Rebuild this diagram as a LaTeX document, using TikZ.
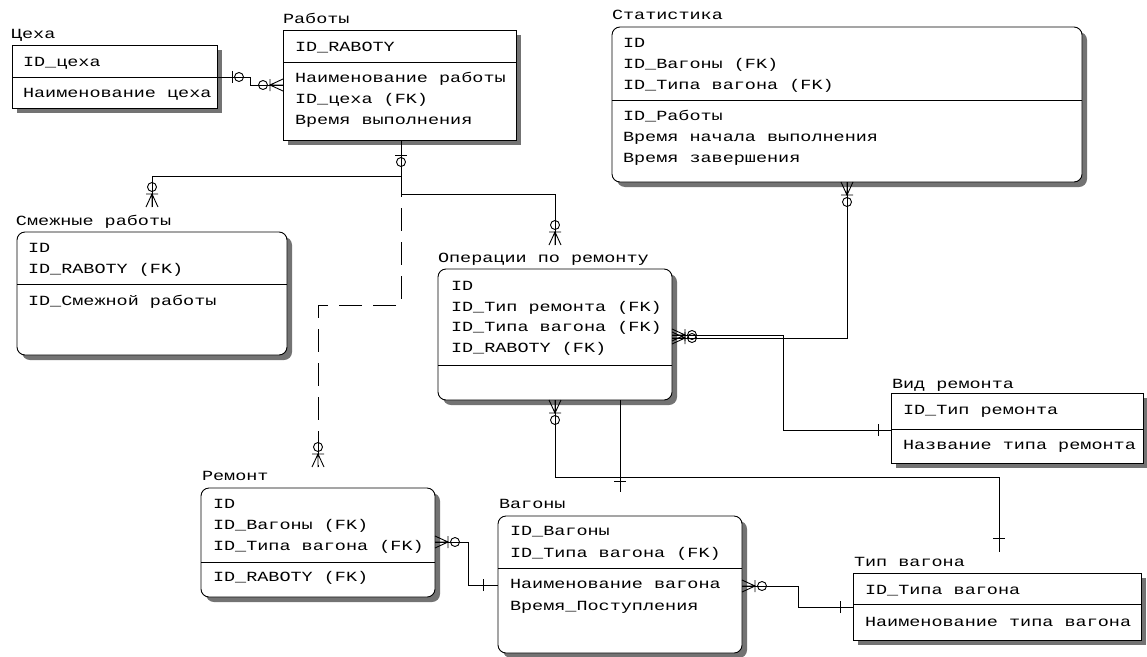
\documentclass[tikz,border=0pt]{standalone}
\usepackage{fontspec}
\setmainfont{Liberation Mono}[FakeStretch=1.32]
\usetikzlibrary{shadows}
\newcommand\erow[4]{\node[txt] (#1) at ({#2},{#3+4.5}) {#4};}
\begin{document}
\begin{tikzpicture}[x=1pt,y=-1pt,
  ent/.style={draw, line width=0.9pt, fill=white, inner sep=0pt, outer sep=0pt,
    drop shadow={shadow xshift=5pt, shadow yshift=-5pt, fill=black!55, opacity=1}},
  rent/.style={ent, rounded corners=8pt},
  txt/.style={anchor=base west, inner sep=0pt, outer sep=0pt, font=\fontsize{14}{16}\selectfont},
  conn/.style={line width=0.9pt},
  dconn/.style={line width=0.9pt, dash pattern=on 23pt off 11pt},
  zmany/.pic={\draw[conn] (0,-6)--(13,0)--(0,6) (0,0)--(13,0) (13,-6)--(13,6);
              \draw[conn] (20,0) circle[radius=4.5];},
  zone/.pic={\draw[conn] (15,-6)--(15,6); \draw[conn] (22,0) circle[radius=4.5];},
  onebar/.pic={\draw[conn] (#1,-6)--(#1,6);}
]
\useasboundingbox[fill=white] (0,0) rectangle (1147,656);

% ---------- entities ----------
\node[ent,  minimum width=205, minimum height=63]  (ceha)  at (114.5,76.5) {};
\node[ent,  minimum width=233, minimum height=110] (rab)   at (399.5,85) {};
\node[rent, minimum width=470, minimum height=155] (stat)  at (847,104.5) {};
\node[rent, minimum width=270, minimum height=123] (smezh) at (152,293.5) {};
\node[rent, minimum width=234, minimum height=131] (oper)  at (555,334.5) {};
\node[ent,  minimum width=252, minimum height=70]  (vid)   at (1017,428) {};
\node[rent, minimum width=234, minimum height=109] (rem)   at (318,542.5) {};
\node[rent, minimum width=244, minimum height=137] (vag)   at (620,584.5) {};
\node[ent,  minimum width=288, minimum height=67]  (tip)   at (997,606.5) {};

% dividers
\draw[conn] (ceha.west |- 0,77) -- (ceha.east |- 0,77);
\draw[conn] (rab.west |- 0,62) -- (rab.east |- 0,62);
\draw[conn] (stat.west |- 0,100) -- (stat.east |- 0,100);
\draw[conn] (smezh.west |- 0,284) -- (smezh.east |- 0,284);
\draw[conn] (oper.west |- 0,365) -- (oper.east |- 0,365);
\draw[conn] (vid.west |- 0,429) -- (vid.east |- 0,429);
\draw[conn] (rem.west |- 0,562) -- (rem.east |- 0,562);
\draw[conn] (vag.west |- 0,568) -- (vag.east |- 0,568);
\draw[conn] (tip.west |- 0,604) -- (tip.east |- 0,604);

% ---------- texts ----------
\erow{cehaT}{11}{34}{Цеха}
\erow{ceha1}{23}{62}{ID\_цеха}
\erow{ceha2}{23}{93}{Наименование цеха}

\erow{rabT}{283}{19}{Работы}
\erow{rab1}{295}{47}{ID\_RABOTY}
\erow{rab2}{295}{78}{Наименование работы}
\erow{rab3}{295}{99}{ID\_цеха (FK)}
\erow{rab4}{295}{120}{Время выполнения}

\erow{statT}{612}{15}{Статистика}
\erow{stat1}{623}{43}{ID}
\erow{stat2}{623}{64}{ID\_Вагоны (FK)}
\erow{stat3}{623}{85}{ID\_Типа вагона (FK)}
\erow{stat4}{623}{116}{ID\_Работы}
\erow{stat5}{623}{137}{Время начала выполнения}
\erow{stat6}{623}{158}{Время завершения}

\erow{smezhT}{16}{221}{Смежные работы}
\erow{smezh1}{28}{248}{ID}
\erow{smezh2}{28}{269}{ID\_RABOTY (FK)}
\erow{smezh3}{28}{301}{ID\_Смежной работы}

\erow{operT}{438}{258}{Операции по ремонту}
\erow{oper1}{451}{286}{ID}
\erow{oper2}{451}{307}{ID\_Тип ремонта (FK)}
\erow{oper3}{451}{327}{ID\_Типа вагона (FK)}
\erow{oper4}{451}{348}{ID\_RABOTY (FK)}

\erow{vidT}{892}{384}{Вид ремонта}
\erow{vid1}{903}{410}{ID\_Тип ремонта}
\erow{vid2}{903}{445}{Название типа ремонта}

\erow{remT}{202}{476}{Ремонт}
\erow{rem1}{213}{504}{ID}
\erow{rem2}{213}{525}{ID\_Вагоны (FK)}
\erow{rem3}{213}{546}{ID\_Типа вагона (FK)}
\erow{rem4}{213}{577}{ID\_RABOTY (FK)}

\erow{vagT}{499}{504}{Вагоны}
\erow{vag1}{510}{531}{ID\_Вагоны}
\erow{vag2}{510}{553}{ID\_Типа вагона (FK)}
\erow{vag3}{510}{584}{Наименование вагона}
\erow{vag4}{510}{606}{Время\_Поступления}

\erow{tipT}{854}{562}{Тип вагона}
\erow{tip1}{865}{590}{ID\_Типа вагона}
\erow{tip2}{865}{622}{Наименование типа вагона}

% ---------- connectors ----------
\coordinate (smezhEnd) at (152,207);
\coordinate (operEnd)  at (555,245);
\coordinate (remEnd)   at (318,467);
\coordinate (tipEnd)   at (999,552);
\coordinate (vagEnd)   at (620,492);

% Цеха - Работы
\draw[conn] (ceha.east |- 0,77) -- (250,77) -- (250,85) -- (rab.west |- 0,85);
\pic at (ceha.east |- 0,77) {zone};
\pic[rotate=180] at (rab.west |- 0,85) {zmany};

% Работы - Смежные работы
\draw[conn] (rab.south -| 401,0) -- (401,176) -- (smezhEnd |- 0,176) -- (smezhEnd);
\pic[rotate=-90] at (rab.south -| 401,0) {zone};
\pic[rotate=90] at (smezhEnd) {zmany};

% Работы - Операции по ремонту
\draw[conn] (rab.south -| 401,0) -- (401,194) -- (operEnd |- 0,194) -- (operEnd);
\pic[rotate=90] at (operEnd) {zmany};

% Работы - Ремонт (dashed)
\draw[dconn] (rab.south -| 401,0) -- (401,305) -- (remEnd |- 0,305) -- (remEnd);
\pic[rotate=90] at (remEnd) {zmany};

% Операции - Статистика
\draw[conn] (oper.east |- 0,338) -- (stat.south |- 0,338) -- (stat.south);
\pic at (oper.east |- 0,338) {zmany};
\pic[rotate=-90] at (stat.south) {zmany};

% Операции - Вид ремонта
\draw[conn] (oper.east |- 0,335) -- (783,335) -- (783,430) -- (vid.west |- 0,430);
\pic at (oper.east |- 0,335) {zmany};
\pic[rotate=180] at (vid.west |- 0,430) {onebar=13};

% Операции - Тип вагона
\draw[conn] (oper.south) -- (555,477) -- (tipEnd |- 0,477) -- (tipEnd);
\pic[rotate=-90] at (oper.south) {zmany};
\pic[rotate=90] at (tipEnd) {onebar=14};

% Операции - Вагоны
\draw[conn] (oper.south -| vagEnd) -- (vagEnd);
\pic[rotate=90] at (vagEnd) {onebar=11};

% Ремонт - Вагоны
\draw[conn] (rem.east |- 0,542) -- (468,542) -- (468,585) -- (vag.west |- 0,585);
\pic at (rem.east |- 0,542) {zmany};
\pic[rotate=180] at (vag.west |- 0,585) {onebar=15};

% Вагоны - Тип вагона
\draw[conn] (vag.east |- 0,586) -- (798,586) -- (798,607) -- (tip.west |- 0,607);
\pic at (vag.east |- 0,586) {zmany};
\pic[rotate=180] at (tip.west |- 0,607) {onebar=13};
\end{tikzpicture}
\end{document}
